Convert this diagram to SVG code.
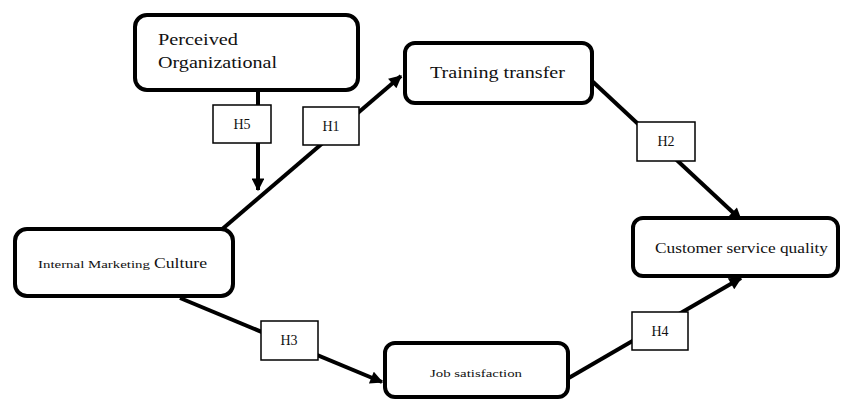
<svg xmlns="http://www.w3.org/2000/svg" width="845" height="399" viewBox="0 0 845 399">
<style>
.node{fill:#fff;stroke:#000;stroke-width:4}
.lab{fill:#fff;stroke:#000;stroke-width:1.5}
.conn{stroke:#000;stroke-width:4;fill:none}
text{font-family:"Liberation Serif","Times New Roman",serif;fill:#111}
.h{font-size:14px;text-anchor:middle}
</style>
<defs>
<marker id="arr" viewBox="0 0 10 10" refX="9" refY="5" markerWidth="3.6" markerHeight="3.2" orient="auto" markerUnits="strokeWidth">
<path d="M0,0 L10,5 L0,10 z" fill="#000"/>
</marker>
</defs>
<rect width="845" height="399" fill="#fff"/>
<g id="connectors">
<line class="conn" x1="258" y1="92" x2="258" y2="190" marker-end="url(#arr)"/>
<line class="conn" x1="220" y1="231" x2="401" y2="76" marker-end="url(#arr)"/>
<line class="conn" x1="592" y1="81" x2="741" y2="220" marker-end="url(#arr)"/>
<line class="conn" x1="180" y1="298" x2="382" y2="382" marker-end="url(#arr)"/>
<line class="conn" x1="567" y1="379" x2="741" y2="278" marker-end="url(#arr)"/>
</g>
<g id="perceived">
<rect class="node" x="135" y="15" width="223" height="75" rx="12"/>
<text x="158" y="45" font-size="16" textLength="80" lengthAdjust="spacingAndGlyphs">Perceived</text>
<text x="158" y="68" font-size="16" textLength="119" lengthAdjust="spacingAndGlyphs">Organizational</text>
</g>
<g id="training">
<rect class="node" x="405" y="43" width="187" height="60" rx="10"/>
<text x="430" y="78" font-size="16" textLength="135" lengthAdjust="spacingAndGlyphs">Training transfer</text>
</g>
<g id="internal">
<rect class="node" x="15" y="229" width="218" height="67" rx="12"/>
<text x="38" y="268" font-size="11" fill="#444" textLength="112" lengthAdjust="spacingAndGlyphs">Internal Marketing</text>
<text x="154" y="268" font-size="15" textLength="53" lengthAdjust="spacingAndGlyphs">Culture</text>
</g>
<g id="job">
<rect class="node" x="385" y="343" width="183" height="54" rx="10"/>
<text x="430" y="377" font-size="11" fill="#444" textLength="92" lengthAdjust="spacingAndGlyphs">Job satisfaction</text>
</g>
<g id="customer">
<rect class="node" x="633" y="218" width="205" height="58" rx="10"/>
<text x="655" y="253" font-size="14" textLength="173" lengthAdjust="spacingAndGlyphs">Customer service quality</text>
</g>
<g id="h5"><rect class="lab" x="213" y="105" width="58" height="38"/><text class="h" x="242" y="129">H5</text></g>
<g id="h1"><rect class="lab" x="303" y="107" width="56" height="38"/><text class="h" x="331" y="131">H1</text></g>
<g id="h2"><rect class="lab" x="637" y="122" width="58" height="39"/><text class="h" x="666" y="146">H2</text></g>
<g id="h3"><rect class="lab" x="261" y="321" width="57" height="39"/><text class="h" x="289" y="345">H3</text></g>
<g id="h4"><rect class="lab" x="632" y="312" width="56" height="38"/><text class="h" x="660" y="336">H4</text></g>
</svg>
